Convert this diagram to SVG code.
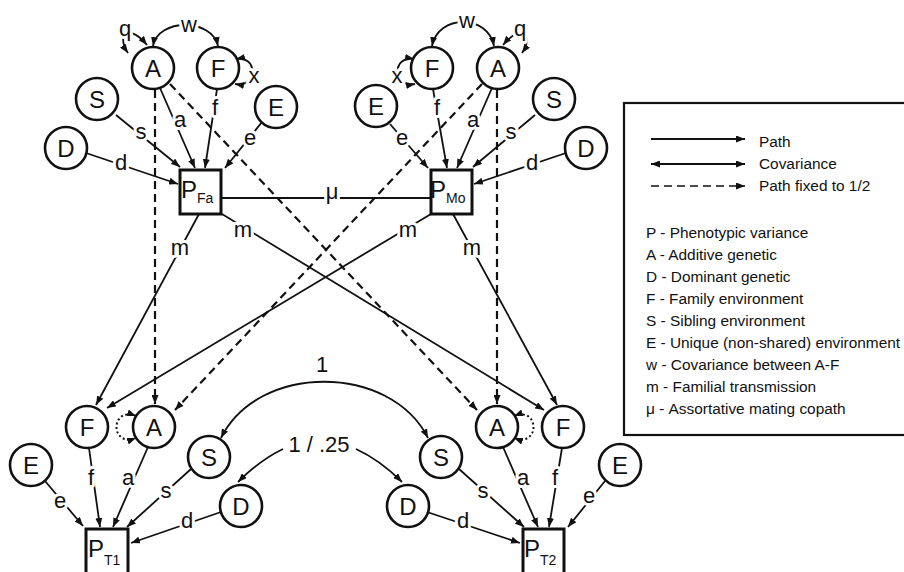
<svg xmlns="http://www.w3.org/2000/svg" width="904" height="572" viewBox="0 0 904 572">
<defs>
<marker id="ah" viewBox="0 0 9 7" refX="9" refY="3.5" markerWidth="9" markerHeight="7" markerUnits="userSpaceOnUse" orient="auto-start-reverse"><path d="M0,0 L9,3.5 L0,7 z" fill="#111"/></marker>
<style>
.n circle{fill:#fff;stroke:#111;stroke-width:2.6}
.n rect{fill:#fff;stroke:#111;stroke-width:3}
.nt{font-family:"Liberation Sans",Arial,sans-serif;font-size:24px;text-anchor:middle;fill:#111}
.pt{font-family:"Liberation Sans",Arial,sans-serif;font-size:24px;fill:#111}
.e{stroke:#111;stroke-width:1.8;fill:none;marker-end:url(#ah)}
.b{marker-start:url(#ah)}
.d{stroke-dasharray:8 5;stroke-width:2.2}
.dot{stroke-dasharray:2 2.5;stroke-width:2}
.pl{stroke:#111;stroke-width:1.8;fill:none}
.lbl{font-family:"Liberation Sans",Arial,sans-serif;font-size:22px;text-anchor:middle;fill:#111;stroke:#fff;stroke-width:6;paint-order:stroke;stroke-linejoin:round}
.lg{font-family:"Liberation Sans",Arial,sans-serif;font-size:15.4px;fill:#111}
</style>
</defs>
<rect width="904" height="572" fill="#fff"/>
<g id="connectors">
<!-- dashed paths fixed to 1/2 -->
<path class="e d" d="M155,90 L155,404"/>
<path class="e d" d="M170,84 L477,410"/>
<path class="e d" d="M497,90 L497,404"/>
<path class="e d" d="M482,84 L175,410"/>
<!-- assortative mating -->
<path class="pl" d="M221,198 L431,198"/>
<!-- father paths -->
<path class="e" d="M86,153 L178,184"/>
<path class="e" d="M116,115 L180,167"/>
<path class="e" d="M160,88 L195,168"/>
<path class="e" d="M217,89 L205,168"/>
<path class="e" d="M262,122 L225,168"/>
<!-- mother paths -->
<path class="e" d="M433,89 L447,168"/>
<path class="e" d="M492,88 L457,168"/>
<path class="e" d="M535,115 L473,167"/>
<path class="e" d="M390,124 L428,168"/>
<path class="e" d="M566,153 L474,184"/>
<!-- covariances top -->
<path class="e b" d="M153,46 C158,18 212,18 218,46"/>
<path class="e b" d="M432,46 C438,14 488,14 494,46"/>
<path class="e b" d="M128,53 C116,36 128,22 147,45"/>
<path class="e b" d="M522,53 C534,36 522,22 503,45"/>
<path class="e b" d="M236,59 C258,55 258,88 235,84"/>
<path class="e b" d="M414,59 C392,55 392,88 415,84"/>
<!-- familial transmission -->
<path class="e" d="M199,214 L96,405"/>
<path class="e" d="M222,214 L544,410"/>
<path class="e" d="M431,214 L107,408"/>
<path class="e" d="M453,214 L557,405"/>
<!-- twin 1 paths -->
<path class="e" d="M45,481 L83,526"/>
<path class="e" d="M89,448 L100,527"/>
<path class="e" d="M148,447 L113,527"/>
<path class="e" d="M191,469 L127,527"/>
<path class="e" d="M221,512 L131,543"/>
<!-- twin 2 paths -->
<path class="e" d="M503,447 L538,527"/>
<path class="e" d="M562,448 L549,527"/>
<path class="e" d="M605,481 L568,527"/>
<path class="e" d="M459,469 L524,527"/>
<path class="e" d="M427,512 L520,543"/>
<!-- twin covariances -->
<path class="e b dot" d="M136,416 C110,406 110,448 136,438"/>
<path class="e b dot" d="M514,416 C540,406 540,448 514,438"/>
<path class="e b" d="M221,438 C258,363 390,363 428,438"/>
<path class="e" d="M283,449 Q260,460 238,482"/>
<path class="e" d="M356,449 Q380,460 402,482"/>
<!-- labels -->
<text class="lbl" x="189" y="32">w</text>
<text class="lbl" x="467" y="28">w</text>
<text class="lbl" x="125" y="36">q</text>
<text class="lbl" x="520" y="36">q</text>
<text class="lbl" x="254" y="83">x</text>
<text class="lbl" x="397" y="83">x</text>
<text class="lbl" x="180" y="127">a</text>
<text class="lbl" x="215" y="115">f</text>
<text class="lbl" x="250" y="145">e</text>
<text class="lbl" x="141" y="139">s</text>
<text class="lbl" x="121" y="170">d</text>
<text class="lbl" x="437" y="115">f</text>
<text class="lbl" x="473" y="127">a</text>
<text class="lbl" x="511" y="139">s</text>
<text class="lbl" x="402" y="145">e</text>
<text class="lbl" x="532" y="170">d</text>
<text class="lbl" x="332" y="199">μ</text>
<text class="lbl" x="180" y="255">m</text>
<text class="lbl" x="243" y="237">m</text>
<text class="lbl" x="408" y="237">m</text>
<text class="lbl" x="472" y="255">m</text>
<text class="lbl" x="60" y="508">e</text>
<text class="lbl" x="91" y="485">f</text>
<text class="lbl" x="128" y="485">a</text>
<text class="lbl" x="166" y="498">s</text>
<text class="lbl" x="187" y="528">d</text>
<text class="lbl" x="523" y="485">a</text>
<text class="lbl" x="555" y="485">f</text>
<text class="lbl" x="589" y="503">e</text>
<text class="lbl" x="483" y="498">s</text>
<text class="lbl" x="463" y="528">d</text>
<text class="lbl" x="322" y="372">1</text>
<text class="lbl" x="319" y="452">1 / .25</text>
</g>
<g id="A_Fa" class="n"><circle cx="153" cy="68" r="21"/><text class="nt" x="153" y="77">A</text></g>
<g id="F_Fa" class="n"><circle cx="218" cy="68" r="21"/><text class="nt" x="218" y="77">F</text></g>
<g id="S_Fa" class="n"><circle cx="97" cy="99" r="21"/><text class="nt" x="97" y="108">S</text></g>
<g id="D_Fa" class="n"><circle cx="66" cy="148" r="21"/><text class="nt" x="66" y="157">D</text></g>
<g id="E_Fa" class="n"><circle cx="276" cy="107" r="21"/><text class="nt" x="276" y="116">E</text></g>
<g id="P_Fa" class="n"><rect x="180" y="170" width="41" height="44"/><text class="pt" x="181" y="198">P<tspan font-size="14" dy="5">Fa</tspan></text></g>
<g id="F_Mo" class="n"><circle cx="432" cy="68" r="21"/><text class="nt" x="432" y="77">F</text></g>
<g id="A_Mo" class="n"><circle cx="498" cy="68" r="21"/><text class="nt" x="498" y="77">A</text></g>
<g id="E_Mo" class="n"><circle cx="376" cy="106" r="21"/><text class="nt" x="376" y="115">E</text></g>
<g id="S_Mo" class="n"><circle cx="554" cy="99" r="21"/><text class="nt" x="554" y="108">S</text></g>
<g id="D_Mo" class="n"><circle cx="586" cy="148" r="21"/><text class="nt" x="586" y="157">D</text></g>
<g id="P_Mo" class="n"><rect x="431" y="170" width="41" height="44"/><text class="pt" x="430" y="198">P<tspan font-size="14" dy="5">Mo</tspan></text></g>
<g id="F_T1" class="n"><circle cx="87" cy="427" r="21"/><text class="nt" x="87" y="436">F</text></g>
<g id="A_T1" class="n"><circle cx="154" cy="427" r="21"/><text class="nt" x="154" y="436">A</text></g>
<g id="E_T1" class="n"><circle cx="31" cy="465" r="21"/><text class="nt" x="31" y="474">E</text></g>
<g id="S_T1" class="n"><circle cx="209" cy="457" r="21"/><text class="nt" x="209" y="466">S</text></g>
<g id="D_T1" class="n"><circle cx="241" cy="506" r="21"/><text class="nt" x="241" y="515">D</text></g>
<g id="P_T1" class="n"><rect x="86" y="529" width="42" height="46"/><text class="pt" x="88" y="557">P<tspan font-size="14" dy="8">T1</tspan></text></g>
<g id="A_T2" class="n"><circle cx="497" cy="427" r="21"/><text class="nt" x="497" y="436">A</text></g>
<g id="F_T2" class="n"><circle cx="563" cy="427" r="21"/><text class="nt" x="563" y="436">F</text></g>
<g id="E_T2" class="n"><circle cx="620" cy="465" r="21"/><text class="nt" x="620" y="474">E</text></g>
<g id="S_T2" class="n"><circle cx="441" cy="457" r="21"/><text class="nt" x="441" y="466">S</text></g>
<g id="D_T2" class="n"><circle cx="408" cy="506" r="21"/><text class="nt" x="408" y="515">D</text></g>
<g id="P_T2" class="n"><rect x="523" y="529" width="41" height="46"/><text class="pt" x="524" y="557">P<tspan font-size="14" dy="8">T2</tspan></text></g>
<g id="legend">
<rect x="624" y="103" width="300" height="332" fill="#fff" stroke="#111" stroke-width="2.2"/>
<path class="e" d="M651,139 L745,139"/>
<path class="e b" d="M651,164 L745,164"/>
<path class="e d" d="M651,186 L745,186" style="stroke-width:1.7"/>
<text class="lg" x="759" y="147">Path</text>
<text class="lg" x="759" y="169">Covariance</text>
<text class="lg" x="759" y="191">Path fixed to 1/2</text>
<text class="lg" x="646" y="238">P - Phenotypic variance</text>
<text class="lg" x="646" y="260">A - Additive genetic</text>
<text class="lg" x="646" y="282">D - Dominant genetic</text>
<text class="lg" x="646" y="304">F - Family environment</text>
<text class="lg" x="646" y="326">S - Sibling environment</text>
<text class="lg" x="646" y="348">E - Unique (non-shared) environment</text>
<text class="lg" x="646" y="370">w - Covariance between A-F</text>
<text class="lg" x="646" y="392">m - Familial transmission</text>
<text class="lg" x="646" y="414">μ - Assortative mating copath</text>
</g>
</svg>
